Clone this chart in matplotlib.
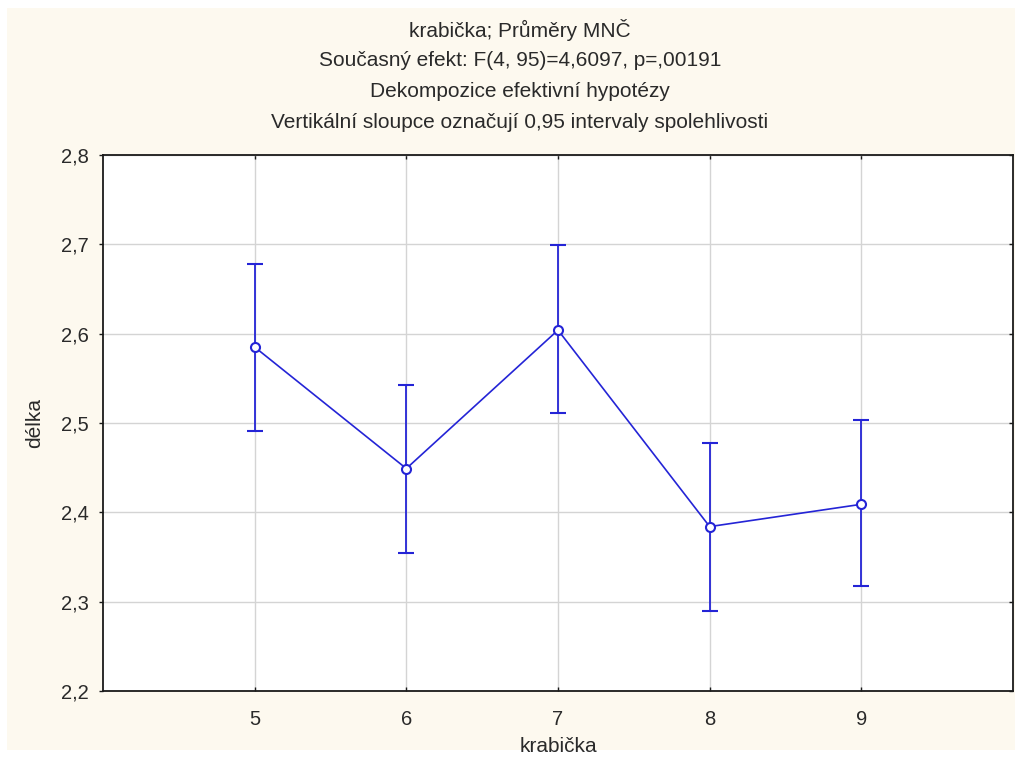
import matplotlib
matplotlib.use("Agg")
import matplotlib.pyplot as plt
from matplotlib.lines import TICKLEFT
from matplotlib.patches import Rectangle
from matplotlib.ticker import FuncFormatter

# Group means with their 0.95 confidence limits
boxes = [5, 6, 7, 8, 9]
means = [2.585, 2.449, 2.604, 2.384, 2.409]
lower = [2.491, 2.355, 2.511, 2.290, 2.317]
upper = [2.678, 2.543, 2.699, 2.478, 2.503]
y_ticks = [2.2, 2.3, 2.4, 2.5, 2.6, 2.7, 2.8]

title_lines = [
    "krabička; Průměry MNČ",
    "Současný efekt: F(4, 95)=4,6097, p=,00191",
    "Dekompozice efektivní hypotézy",
    "Vertikální sloupce označují 0,95 intervaly spolehlivosti",
]

plt.rcParams["font.family"] = ["Liberation Sans", "DejaVu Sans"]
W, H = 1015, 760
fig = plt.figure(figsize=(W / 100, H / 100), dpi=100, facecolor="white")

# cream panel behind the plot
fig.patches.append(Rectangle((7 / W, 1 - 750 / H), (W - 7) / W, (750 - 8) / H,
                             transform=fig.transFigure, facecolor="#FDF9EF",
                             edgecolor="none", zorder=-5))

ax = fig.add_axes([103 / W, 1 - 691 / H, (1013 - 103) / W, (691 - 155) / H])
ax.set_facecolor("white")
ax.set_zorder(2)

blue = "#2424D6"
err_lo = [m - lo for m, lo in zip(means, lower)]
err_hi = [hi - m for m, hi in zip(means, upper)]
ax.errorbar(boxes, means, yerr=[err_lo, err_hi], color=blue, lw=1.2,
            elinewidth=1.3, capsize=6, capthick=1.3, marker="o", ms=6.5,
            mfc="white", mec=blue, mew=1.5, zorder=3)

ax.set_xlim(4, 10)
ax.set_ylim(2.2, 2.8)
ax.set_xticks(boxes)
ax.set_yticks(y_ticks)
ax.yaxis.set_major_formatter(FuncFormatter(lambda v, p: f"{v:.1f}".replace(".", ",")))
ax.grid(True, color="#D4D4D4", lw=1.0, zorder=0)

for s in ax.spines.values():
    s.set_linewidth(1.3)
    s.set_color("#1a1a1a")

ax.tick_params(axis="both", direction="in", length=3, width=1.0, color="#1a1a1a",
               top=True, right=True, labelsize=14.5, labelcolor="#2a2a2a")
ax.tick_params(axis="x", pad=14)
ax.tick_params(axis="y", pad=10)
for t in ax.yaxis.get_major_ticks():
    t.tick1line.set_marker(TICKLEFT)

ax.set_ylabel("délka", fontsize=15, color="#2a2a2a", labelpad=12)
# x-axis title sits close to the bottom edge of the panel
fig.text(558 / W, 1 - 747 / H, "krabička", ha="center", va="center",
         fontsize=15, color="#2a2a2a")

for i, line in enumerate(title_lines):
    fig.text(520 / W, 1 - (30 + 30.7 * i) / H, line, ha="center", va="center",
             fontsize=15, color="#2a2a2a")

fig.savefig("out.png", dpi=100, facecolor="white")
